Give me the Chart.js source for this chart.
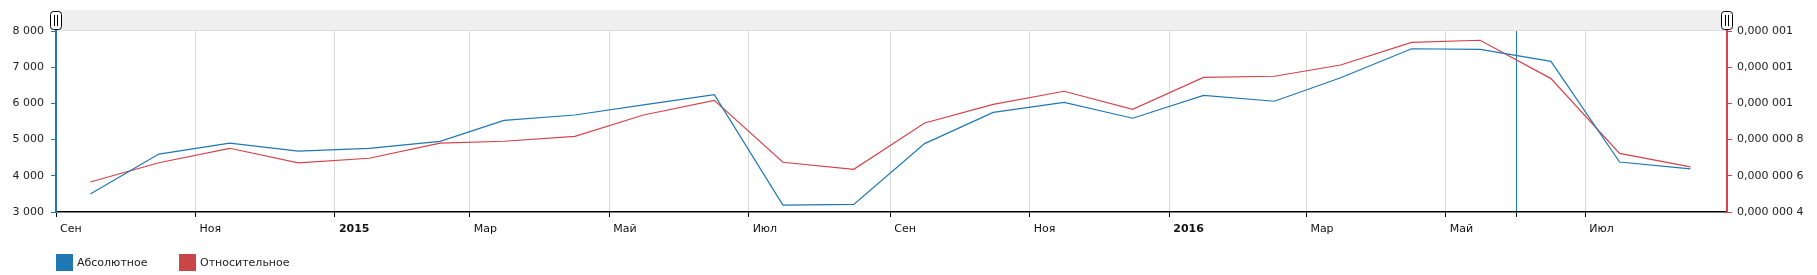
<!DOCTYPE html>
<html>
<head>
<meta charset="utf-8">
<script src="https://cdn.jsdelivr.net/npm/chart.js@4/dist/chart.umd.min.js"></script>
<style>
  body { margin: 0; background: #fff; }
  #wrap { position: relative; width: 1817px; height: 275px; }
  .lg { position: absolute; top: 254px; height: 17px; font: 11px "DejaVu Sans", sans-serif; color: #222; line-height: 17px; }
  .lg i { display: inline-block; width: 17px; height: 17px; vertical-align: top; margin-right: 4px; }
</style>
</head>
<body>
<div id="wrap">
  <canvas id="c" width="1817" height="275"></canvas>
  <div class="lg" style="left:56px"><i style="background:#1f77b4"></i>Абсолютное</div>
  <div class="lg" style="left:179px"><i style="background:#c84646"></i>Относительное</div>
</div>
<script>
// monthly points (middle of month)
const dates = [
    '2014-09-16', '2014-10-16', '2014-11-16', '2014-12-16',
    '2015-01-16', '2015-02-16', '2015-03-16', '2015-04-16', '2015-05-16', '2015-06-16',
    '2015-07-16', '2015-08-16', '2015-09-16', '2015-10-16', '2015-11-16', '2015-12-16',
    '2016-01-16', '2016-02-16', '2016-03-16', '2016-04-16', '2016-05-16', '2016-06-16',
    '2016-07-16', '2016-08-16'
]
const absolute = [
    3500, 4600, 4900, 4680, 4760, 4950, 5530, 5680, 5960, 6240,
    3190, 3210, 4890, 5750, 6030, 5590, 6220, 6060, 6710, 7510,
    7490, 7160, 4380, 4190
]
const relative = [
    5.66e-7, 6.72e-7, 7.52e-7, 6.71e-7, 6.97e-7, 7.80e-7, 7.91e-7, 8.18e-7, 9.36e-7, 1.017e-6,
    6.75e-7, 6.36e-7, 8.92e-7, 9.95e-7, 1.067e-6, 9.67e-7, 1.144e-6, 1.150e-6, 1.212e-6, 1.337e-6,
    1.349e-6, 1.137e-6, 7.24e-7, 6.49e-7
]

const tickDates = ['2014-09-01', '2014-11-01', '2015-01-01', '2015-03-01', '2015-05-01', '2015-07-01',
    '2015-09-01', '2015-11-01', '2016-01-01', '2016-03-01', '2016-05-01', '2016-06-01', '2016-07-01']
const tickLabels = ['Сен', 'Ноя', '2015', 'Мар', 'Май', 'Июл', 'Сен', 'Ноя', '2016', 'Мар', 'Май', '', 'Июл']
const guideDate = '2016-06-01'

const rightTicks = [4e-7, 6e-7, 8e-7, 1e-6, 1.2e-6, 1.4e-6]
const rightLabels = ['0,000 000 4', '0,000 000 6', '0,000 000 8', '0,000 001', '0,000 001', '0,000 001']

const BLUE = '#1f77b4'
const RED = '#d4434a'
const FONT = {family: '"DejaVu Sans", sans-serif', size: 11}

const toPoints = (vals) => vals.map((v, i) => ({x: Date.parse(dates[i]), y: v}))

// grey scroll bar on top with the two grips
const scrollbar = {
    id: 'scrollbar',
    beforeDraw(chart) {
        const {ctx, chartArea: a} = chart
        ctx.save()
        ctx.fillStyle = '#efefef'
        ctx.fillRect(a.left, 10, a.right - a.left, a.top - 10)
        ctx.strokeStyle = '#dddddd'
        ctx.beginPath(); ctx.moveTo(a.left, a.top - 0.5); ctx.lineTo(a.right, a.top - 0.5); ctx.stroke()
        ;[a.left, a.right].forEach(x => {
            ctx.fillStyle = '#fff'
            ctx.strokeStyle = '#000'
            ctx.lineWidth = 1
            ctx.beginPath()
            ctx.roundRect(x - 5.5, 11.5, 11, 18, 3)
            ctx.fill(); ctx.stroke()
            ctx.beginPath()
            ctx.moveTo(x - 1.5, 15); ctx.lineTo(x - 1.5, 26)
            ctx.moveTo(x + 1.5, 15); ctx.lineTo(x + 1.5, 26)
            ctx.stroke()
        })
        ctx.restore()
    }
}

new Chart(document.getElementById('c'), {
    type: 'line',
    data: {
        datasets: [{
            label: 'Абсолютное',
            data: toPoints(absolute),
            borderColor: BLUE,
            borderWidth: 1.2,
            pointRadius: 0,
            yAxisID: 'y',
            fill: false
        }, {
            label: 'Относительное',
            data: toPoints(relative),
            borderColor: RED,
            borderWidth: 1.2,
            pointRadius: 0,
            yAxisID: 'y2',
            fill: false
        }]
    },
    options: {
        responsive: false,
        animation: false,
        layout: {padding: {top: 31}},
        plugins: {legend: {display: false}, tooltip: {enabled: false}},
        scales: {
            x: {
                type: 'linear',
                min: Date.parse('2014-09-01'),
                max: Date.parse('2016-09-01'),
                afterBuildTicks: s => { s.ticks = tickDates.map(d => ({value: Date.parse(d)})) },
                afterFit: s => { s.height = 63 },
                border: {color: '#000', width: 1.5},
                grid: {
                    color: ctx => (ctx.tick && ctx.tick.value === Date.parse(guideDate)) ? BLUE : '#dadada',
                    tickColor: '#000',
                    tickLength: 5
                },
                ticks: {
                    autoSkip: false,
                    maxRotation: 0,
                    align: 'start',
                    labelOffset: 4,
                    padding: 6,
                    color: '#111',
                    font: ctx => ({...FONT, weight: /^\d{4}$/.test(tickLabels[ctx.index] || '') ? 'bold' : 'normal'}),
                    callback: (v, i) => tickLabels[i]
                }
            },
            y: {
                position: 'left',
                min: 3000,
                max: 8000,
                afterFit: s => { s.width = 56 },
                border: {color: BLUE, width: 2},
                grid: {drawOnChartArea: false, tickColor: BLUE, tickLength: 5},
                ticks: {
                    stepSize: 1000,
                    padding: 7,
                    color: '#222',
                    font: FONT,
                    callback: v => String(v).replace(/\B(?=(\d{3})+(?!\d))/g, ' ')
                }
            },
            y2: {
                position: 'right',
                min: 4e-7,
                max: 1.4e-6,
                afterBuildTicks: s => { s.ticks = rightTicks.map(v => ({value: v})) },
                afterFit: s => { s.width = 90 },
                border: {color: RED, width: 2},
                grid: {drawOnChartArea: false, tickColor: RED, tickLength: 5},
                ticks: {
                    padding: 5,
                    color: '#222',
                    font: FONT,
                    callback: (v, i) => rightLabels[i]
                }
            }
        }
    },
    plugins: [scrollbar]
})
</script>
</body>
</html>
